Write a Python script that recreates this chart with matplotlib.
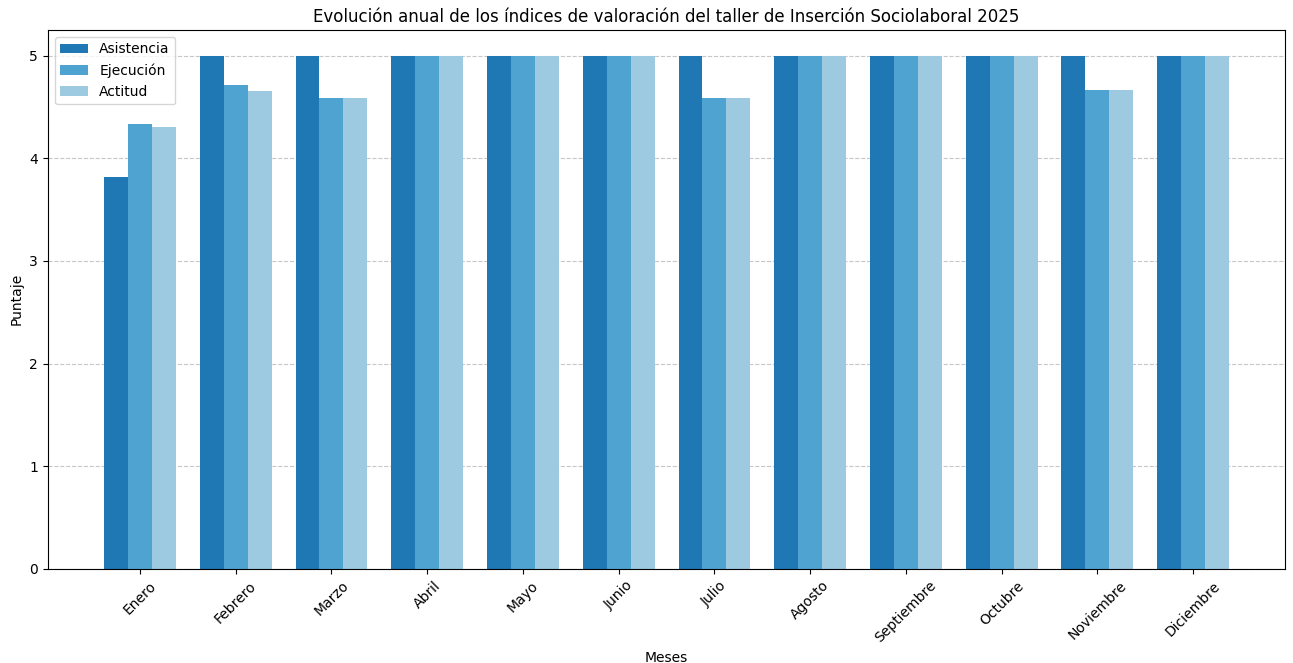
import matplotlib.pyplot as plt
import numpy as np

meses = ["Enero", "Febrero", "Marzo", "Abril", "Mayo", "Junio", "Julio",
         "Agosto", "Septiembre", "Octubre", "Noviembre", "Diciembre"]
asistencia = [3.82, 5, 5, 5, 5, 5, 5, 5, 5, 5, 5, 5]
ejecucion = [4.33, 4.71, 4.59, 5, 5, 5, 4.59, 5, 5, 5, 4.66, 5]
actitud = [4.30, 4.65, 4.59, 5, 5, 5, 4.59, 5, 5, 5, 4.66, 5]

x = np.arange(len(meses))
ancho = 0.25

fig, ax = plt.subplots(figsize=(12.93, 6.63), dpi=100)
fig.subplots_adjust(left=0.037, right=0.994, top=0.955, bottom=0.142)

ax.bar(x - ancho, asistencia, ancho, label="Asistencia", color="#1f77b4")
ax.bar(x, ejecucion, ancho, label="Ejecución", color="#4fa3d1")
ax.bar(x + ancho, actitud, ancho, label="Actitud", color="#9ecae1")

ax.set_title("Evolución anual de los índices de valoración del taller de Inserción Sociolaboral 2025")
ax.set_xlabel("Meses")
ax.set_ylabel("Puntaje")
ax.set_xticks(x)
ax.set_xticklabels(meses, rotation=45)
ax.set_ylim(0, 5.25)
ax.grid(axis="y", linestyle="--", alpha=0.7)
ax.set_axisbelow(True)
ax.legend(loc="upper left")

fig.savefig("out.png")
